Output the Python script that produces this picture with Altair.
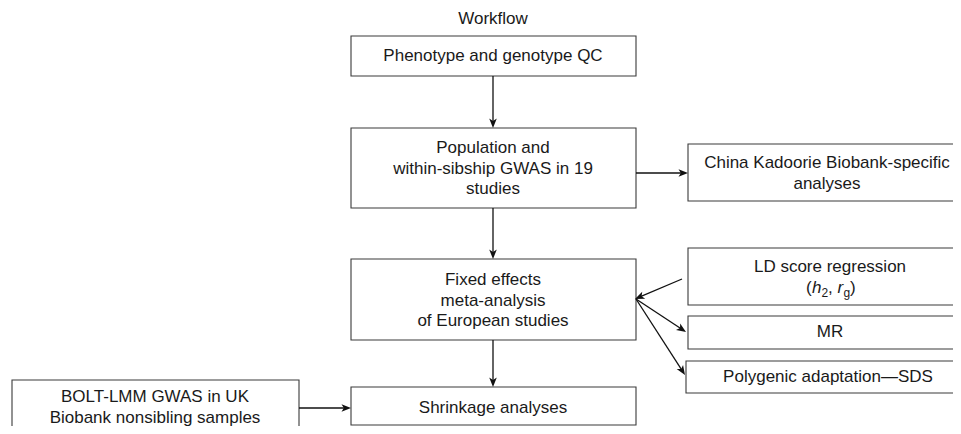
import math
import altair as alt
import pandas as pd

# ---------------- data ----------------
title_text = "Workflow"
title_pos = (493, 19)

box_names = ["qc", "gwas", "meta", "ckb", "ldsc", "mr", "sds", "bolt", "shrink"]
box_left = [351, 351, 351, 688, 688, 688, 686, 12, 351]
box_right = [636, 636, 636, 985, 985, 985, 985, 299, 636]
box_top = [36, 128, 259, 144, 248, 316, 361, 380, 387]
box_bottom = [76, 208, 340, 201, 305, 349, 393, 450, 425]

box_lines = [
    ["Phenotype and genotype QC"],
    ["Population and", "within-sibship GWAS in 19", "studies"],
    ["Fixed effects", "meta-analysis", "of European studies"],
    ["China Kadoorie Biobank-specific", "analyses"],
    ["LD score regression"],
    ["MR"],
    ["Polygenic adaptation\u2014SDS"],
    ["BOLT-LMM GWAS in UK", "Biobank nonsibling samples"],
    ["Shrinkage analyses"],
]
text_cx = [493, 493, 493, 827, 830, 830, 828, 155, 493]
text_cy = [56, 148, 280, 163, 267, 332, 377, 397, 408]
line_step = 20.5

# "(h2, rg)" built from pieces: italic letters and subscripts
formula_parts = ["(", "h", "2", ",", "r", "g", ")"]
formula_x = [806, 812, 821.5, 828, 837.5, 843.5, 850]
formula_italic = [False, True, False, False, True, False, False]
formula_sub = [False, False, True, False, False, True, False]
formula_y = 288

arrow_from = [(493, 76), (493, 208), (493, 340), (636, 173), (299, 408),
              (682, 279), (636, 299), (636, 299)]
arrow_to = [(493, 128), (493, 259), (493, 387), (688, 173), (351, 408),
            (635, 299), (686, 332), (685, 375)]

# ---------------- tables ----------------
boxes = pd.DataFrame(dict(name=box_names, x=box_left, x2=box_right,
                          y=box_top, y2=box_bottom))

trows = [dict(text=title_text, x=title_pos[0], y=title_pos[1])]
for lines, cx, cy in zip(box_lines, text_cx, text_cy):
    for i, t in enumerate(lines):
        trows.append(dict(text=t, x=cx, y=cy + i * line_step))
texts = pd.DataFrame(trows)

frows = []
for p, fx, it, sb in zip(formula_parts, formula_x, formula_italic, formula_sub):
    frows.append(dict(text=p, x=fx, y=formula_y + (5 if sb else 0),
                      italic=it, size=12 if sb else 17))
formula = pd.DataFrame(frows)
formula_it = formula[formula["italic"]]
formula_up = formula[~formula["italic"]]

lrows, hrows = [], []
for (x1, y1), (x2, y2) in zip(arrow_from, arrow_to):
    dx, dy = x2 - x1, y2 - y1
    L = math.hypot(dx, dy)
    ux, uy = dx / L, dy / L
    lrows.append(dict(x=x1, y=y1, x2=x2 - 4 * ux, y2=y2 - 4 * uy))
    ang = math.degrees(math.atan2(dy, dx)) % 360
    hrows.append(dict(x=x2, y=y2, ang=ang))
lines_df = pd.DataFrame(lrows)
heads = pd.DataFrame(hrows)

# ---------------- chart ----------------
W, H = 945, 418
xs = alt.Scale(domain=[8, 8 + W], nice=False, zero=False)
ys = alt.Scale(domain=[8, 8 + H], nice=False, zero=False, reverse=True)
FONT = "Liberation Sans"
INK = "#1a1a1a"

box_layer = alt.Chart(boxes).mark_rect(
    fill="white", stroke="#3a3a3a", strokeWidth=1.1
).encode(
    x=alt.X("x:Q", scale=xs, axis=None), x2="x2:Q",
    y=alt.Y("y:Q", scale=ys, axis=None), y2="y2:Q",
)

line_layer = alt.Chart(lines_df).mark_rule(color="#111111", strokeWidth=1.3).encode(
    x=alt.X("x:Q", scale=xs, axis=None), x2="x2:Q",
    y=alt.Y("y:Q", scale=ys, axis=None), y2="y2:Q",
)

head_layer = alt.Chart(heads).mark_point(
    shape="M0,0 L-2,-0.8 L-1.5,0 L-2,0.8 Z", filled=True, color="#111111",
    opacity=1, size=90, strokeWidth=0,
).encode(
    x=alt.X("x:Q", scale=xs, axis=None),
    y=alt.Y("y:Q", scale=ys, axis=None),
    angle=alt.Angle("ang:Q", scale=None),
)

text_layer = alt.Chart(texts).mark_text(
    font=FONT, fontSize=17, color=INK, align="center", baseline="middle"
).encode(
    x=alt.X("x:Q", scale=xs, axis=None),
    y=alt.Y("y:Q", scale=ys, axis=None),
    text="text:N",
)


def formula_layer(df, style):
    return alt.Chart(df).mark_text(
        font=FONT, color=INK, align="left", baseline="middle", fontStyle=style
    ).encode(
        x=alt.X("x:Q", scale=xs, axis=None),
        y=alt.Y("y:Q", scale=ys, axis=None),
        text="text:N",
        size=alt.Size("size:Q", scale=None),
    )


chart = alt.layer(
    box_layer, line_layer, head_layer, text_layer,
    formula_layer(formula_up, "normal"), formula_layer(formula_it, "italic"),
).properties(
    width=W, height=H,
    autosize=alt.AutoSizeParams(type="none"),
    padding=0,
).configure_view(strokeWidth=0)

chart.save("out.html", embed_options={"renderer": "svg", "actions": False})
